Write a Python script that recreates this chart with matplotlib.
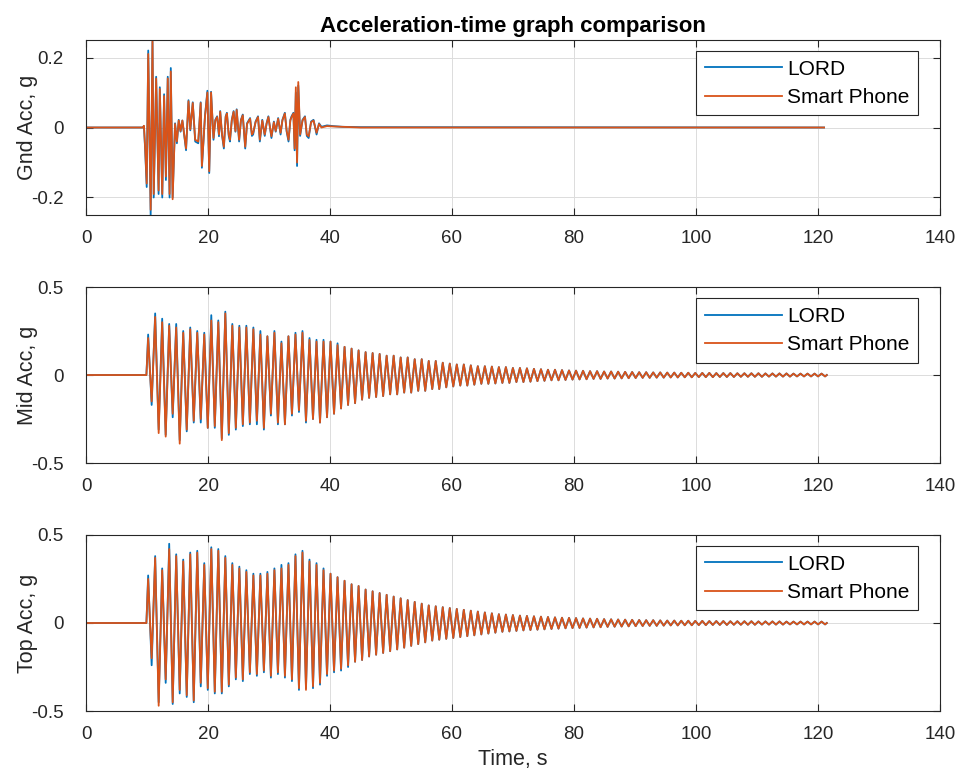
import numpy as np
import matplotlib
matplotlib.use('Agg')
import matplotlib.pyplot as plt

plt.rcParams['font.family'] = ['Liberation Sans', 'DejaVu Sans']

# ---- Gnd : irregular record, (time, value) ----
gnd_t = [0, 9.3, 9.5, 9.7, 9.95, 10.2, 10.6, 10.9, 11.1, 11.5,
         11.9, 12.1, 12.5, 12.8, 13.1, 13.4, 13.7, 13.9, 14.2, 14.6,
         14.9, 15.2, 15.5, 15.8, 16.1, 16.4, 16.8, 17.1, 17.5, 17.9,
         18.4, 18.8, 19.0, 19.5, 19.9, 20.2, 20.5, 20.9, 21.2, 21.5,
         21.8, 22.0, 22.3, 22.6, 22.9, 23.1, 23.4, 23.6, 23.9, 24.2,
         24.5, 24.7, 25.1, 25.4, 25.7, 26.1, 26.4, 26.9, 27.2, 27.4,
         27.8, 28.2, 28.5, 28.9, 29.3, 29.6, 29.9, 30.4, 30.8, 31.1,
         31.5, 31.9, 32.2, 32.6, 32.9, 33.2, 33.5, 33.7, 34.0, 34.2,
         34.4, 34.6, 34.8, 35.1, 35.5, 35.9, 36.2, 36.5, 36.9, 37.3,
         37.8, 38.2, 38.6, 39.5, 40.5, 42, 45, 121]
gnd_phone = [0, 0, 0.005, -0.06, -0.16, 0.21, -0.235, 0.25, -0.19, 0.14,
             -0.18, 0.11, -0.19, 0.09, -0.14, 0.14, -0.19, 0.16, -0.205, 0.01,
             -0.04, 0.02, -0.01, 0.02, -0.02, -0.06, 0.075, -0.005, 0.07, -0.035,
             -0.04, 0.07, -0.11, 0.03, 0.10, -0.125, 0.10, -0.03, 0.02, 0.03,
             -0.02, 0.045, -0.02, -0.055, 0.03, 0.04, -0.02, -0.035, 0.02, 0.045,
             -0.01, 0.05, -0.035, 0.02, 0.035, -0.055, 0.01, 0.025, -0.02, -0.015,
             0.015, 0.03, -0.035, 0.02, -0.02, 0.01, 0.03, -0.025, 0.015, -0.01,
             0.025, -0.015, 0.02, 0.04, -0.01, -0.035, 0.02, 0.03, 0.04, -0.06,
             0.115, -0.10, 0.13, -0.02, 0.02, 0.03, -0.02, -0.025, 0.015, 0.02,
             -0.015, 0.01, 0, 0.004, 0.003, 0.002, 0, 0]
gnd_lord = [0, 0, 0.004, -0.065, -0.17, 0.22, -0.25, 0.245, -0.2, 0.145,
            -0.19, 0.115, -0.2, 0.095, -0.15, 0.145, -0.2, 0.17, -0.2, 0.012,
            -0.045, 0.022, -0.012, 0.02, -0.022, -0.065, 0.078, -0.008, 0.072, -0.04,
            -0.045, 0.072, -0.115, 0.032, 0.105, -0.13, 0.102, -0.035, 0.022, 0.032,
            -0.025, 0.047, -0.022, -0.06, 0.032, 0.042, -0.024, -0.04, 0.022, 0.047,
            -0.012, 0.052, -0.04, 0.022, 0.037, -0.06, 0.012, 0.027, -0.024, -0.02,
            0.017, 0.032, -0.04, 0.022, -0.024, 0.012, 0.032, -0.03, 0.017, -0.012,
            0.027, -0.02, 0.022, 0.042, -0.012, -0.04, 0.022, 0.032, 0.042, -0.065,
            0.1, -0.11, 0.12, -0.024, 0.022, 0.032, -0.024, -0.03, 0.017, 0.022,
            -0.02, 0.012, 0.002, 0.006, 0.004, 0.002, 0.001, 0]

# ---- Mid / Top : free vibration, one peak and one trough per cycle ----
cycle_start = 9.9   # s, onset of shaking
cycle_period = 1.15  # s, measured spacing of the peaks

mid_phone_pk = [0.21, 0.33, 0.30, 0.28, 0.27, 0.24, 0.26, 0.24, 0.23, 0.31,
                0.30, 0.35, 0.28, 0.27, 0.27, 0.26, 0.23, 0.22, 0.24, 0.18,
                0.22, 0.23, 0.24, 0.20, 0.19, 0.19, 0.19, 0.17, 0.16, 0.15]
mid_lord_pk = [0.23, 0.35, 0.32, 0.29, 0.29, 0.25, 0.27, 0.25, 0.24, 0.34,
               0.31, 0.36, 0.29, 0.28, 0.28, 0.27, 0.25, 0.22, 0.25, 0.19,
               0.22, 0.24, 0.25, 0.21, 0.20, 0.20, 0.19, 0.18, 0.16, 0.15]
mid_phone_tr = [-0.15, -0.33, -0.35, -0.22, -0.39, -0.31, -0.26, -0.25, -0.30, -0.29,
                -0.37, -0.33, -0.30, -0.28, -0.27, -0.26, -0.30, -0.22, -0.27, -0.28,
                -0.22, -0.20, -0.26, -0.25, -0.27, -0.24, -0.22, -0.19, -0.17, -0.16]
mid_lord_tr = [-0.17, -0.31, -0.34, -0.24, -0.37, -0.32, -0.27, -0.27, -0.30, -0.30,
               -0.36, -0.34, -0.31, -0.29, -0.28, -0.28, -0.31, -0.23, -0.28, -0.28,
               -0.23, -0.21, -0.27, -0.25, -0.27, -0.24, -0.22, -0.19, -0.17, -0.16]
mid_tail = [0.14, 0.13, 0.125, 0.12,
            0.11, 0.11, 0.10, 0.10, 0.09, 0.09, 0.08, 0.08, 0.07,
            0.065, 0.06, 0.06, 0.055, 0.05, 0.05, 0.048, 0.045, 0.045,
            0.04, 0.04, 0.038, 0.035, 0.033, 0.03, 0.03, 0.028, 0.026,
            0.025, 0.024, 0.022, 0.022, 0.02, 0.02, 0.019, 0.018, 0.017,
            0.016, 0.016, 0.015, 0.015, 0.014, 0.014, 0.013, 0.013, 0.012,
            0.012, 0.012, 0.011, 0.011, 0.011, 0.01, 0.01, 0.01, 0.01,
            0.009, 0.009, 0.009, 0.009, 0.008, 0.008, 0.008, 0.008, 0.008]

top_phone_pk = [0.25, 0.37, 0.30, 0.42, 0.38, 0.35, 0.39, 0.40, 0.33, 0.42,
                0.41, 0.37, 0.33, 0.31, 0.29, 0.27, 0.27, 0.28, 0.30, 0.31,
                0.33, 0.38, 0.40, 0.35, 0.33, 0.30, 0.28, 0.26, 0.24, 0.22]
top_lord_pk = [0.27, 0.38, 0.31, 0.45, 0.39, 0.36, 0.40, 0.41, 0.34, 0.43,
               0.42, 0.38, 0.34, 0.32, 0.30, 0.28, 0.28, 0.29, 0.31, 0.33,
               0.34, 0.39, 0.41, 0.36, 0.34, 0.31, 0.28, 0.26, 0.24, 0.22]
top_phone_tr = [-0.20, -0.47, -0.32, -0.45, -0.38, -0.41, -0.44, -0.34, -0.37, -0.39,
                -0.39, -0.35, -0.31, -0.32, -0.28, -0.29, -0.27, -0.30, -0.28, -0.30,
                -0.32, -0.37, -0.38, -0.36, -0.34, -0.29, -0.27, -0.26, -0.24, -0.22]
top_lord_tr = [-0.24, -0.45, -0.34, -0.46, -0.40, -0.42, -0.45, -0.36, -0.38, -0.40,
               -0.40, -0.36, -0.32, -0.33, -0.29, -0.30, -0.28, -0.31, -0.29, -0.31,
               -0.33, -0.38, -0.37, -0.37, -0.35, -0.30, -0.28, -0.27, -0.25, -0.22]
top_tail = [0.21, 0.19, 0.18, 0.17,
            0.16, 0.15, 0.14, 0.13, 0.12, 0.11, 0.10, 0.095, 0.09,
            0.085, 0.08, 0.075, 0.07, 0.065, 0.06, 0.055, 0.05, 0.048,
            0.045, 0.042, 0.04, 0.038, 0.036, 0.034, 0.032, 0.03, 0.029,
            0.028, 0.026, 0.025, 0.024, 0.022, 0.021, 0.02, 0.019, 0.018,
            0.017, 0.016, 0.016, 0.015, 0.014, 0.014, 0.013, 0.013, 0.012,
            0.012, 0.011, 0.011, 0.011, 0.01, 0.01, 0.01, 0.01, 0.009,
            0.009, 0.009, 0.009, 0.008, 0.008, 0.008, 0.008, 0.008, 0.008]


def cycles_to_line(pk, tr, tail):
    # peaks and troughs joined in time order, tail decays symmetrically
    pk = np.concatenate([pk, tail])
    tr = np.concatenate([tr, -np.asarray(tail)])
    k = np.arange(len(pk))
    tp = cycle_start + cycle_period * (k + 0.25)
    tt = cycle_start + cycle_period * (k + 0.75)
    t = np.column_stack([tp, tt]).ravel()
    y = np.column_stack([pk, tr]).ravel()
    t = np.concatenate([[0, cycle_start], t, [t[-1] + cycle_period / 4]])
    y = np.concatenate([[0, 0], y, [0]])
    return t, y


blue = '#0072BD'
orange = '#D95319'
dark = '#262626'
lw = 1.3

fig = plt.figure(figsize=(9.61, 7.77), dpi=100)
ax1 = fig.add_axes([0.0895, 0.7233, 0.8886, 0.2252])
ax2 = fig.add_axes([0.0895, 0.4041, 0.8886, 0.2265])
ax3 = fig.add_axes([0.0895, 0.0849, 0.8886, 0.2266])

ax1.plot(gnd_t, gnd_lord, color=blue, lw=lw, label='LORD')
ax1.plot(gnd_t, gnd_phone, color=orange, lw=lw, label='Smart Phone')

t, y = cycles_to_line(mid_lord_pk, mid_lord_tr, mid_tail)
ax2.plot(t, y, color=blue, lw=lw, label='LORD')
t, y = cycles_to_line(mid_phone_pk, mid_phone_tr, mid_tail)
ax2.plot(t, y, color=orange, lw=lw, label='Smart Phone')

t, y = cycles_to_line(top_lord_pk, top_lord_tr, top_tail)
ax3.plot(t, y, color=blue, lw=lw, label='LORD')
t, y = cycles_to_line(top_phone_pk, top_phone_tr, top_tail)
ax3.plot(t, y, color=orange, lw=lw, label='Smart Phone')

ylims = [(-0.25, 0.25), (-0.5, 0.5), (-0.5, 0.5)]
yticks = [[-0.2, 0, 0.2], [-0.5, 0, 0.5], [-0.5, 0, 0.5]]
ylabels = ['Gnd Acc, g', 'Mid Acc, g', 'Top Acc, g']

for ax, yl, yt, lab in zip([ax1, ax2, ax3], ylims, yticks, ylabels):
    ax.set_xlim(0, 140)
    ax.set_ylim(*yl)
    ax.set_xticks(np.arange(0, 141, 20))
    ax.set_yticks(yt)
    ax.set_yticklabels(['0' if v == 0 else f'{v:g}' for v in yt])
    ax.grid(True, color='#dcdcdc', lw=0.7)
    ax.set_axisbelow(True)
    ax.tick_params(direction='in', top=True, right=True, length=5,
                   labelsize=13.5, colors=dark)
    ax.tick_params(axis='x', pad=11)
    ax.tick_params(axis='y', pad=16)
    for s in ax.spines.values():
        s.set_color(dark)
        s.set_linewidth(0.8)
    ax.set_ylabel(lab, fontsize=15.5, color=dark, va='center')
    ax.yaxis.set_label_coords(-0.068, 0.5)
    leg = ax.legend(loc='upper right', bbox_to_anchor=(0.974, 0.935),
                    borderaxespad=0, fontsize=15, fancybox=False,
                    framealpha=1, edgecolor=dark, handlelength=3.7,
                    handletextpad=0.25, borderpad=0.4, labelspacing=0.45)
    leg.get_frame().set_linewidth(0.8)

ax1.set_title('Acceleration-time graph comparison', fontsize=16,
              fontweight='bold', color='black', pad=6)
ax3.set_xlabel('Time, s', fontsize=15.5, color=dark, labelpad=4)

fig.savefig('out.png', dpi=100)
